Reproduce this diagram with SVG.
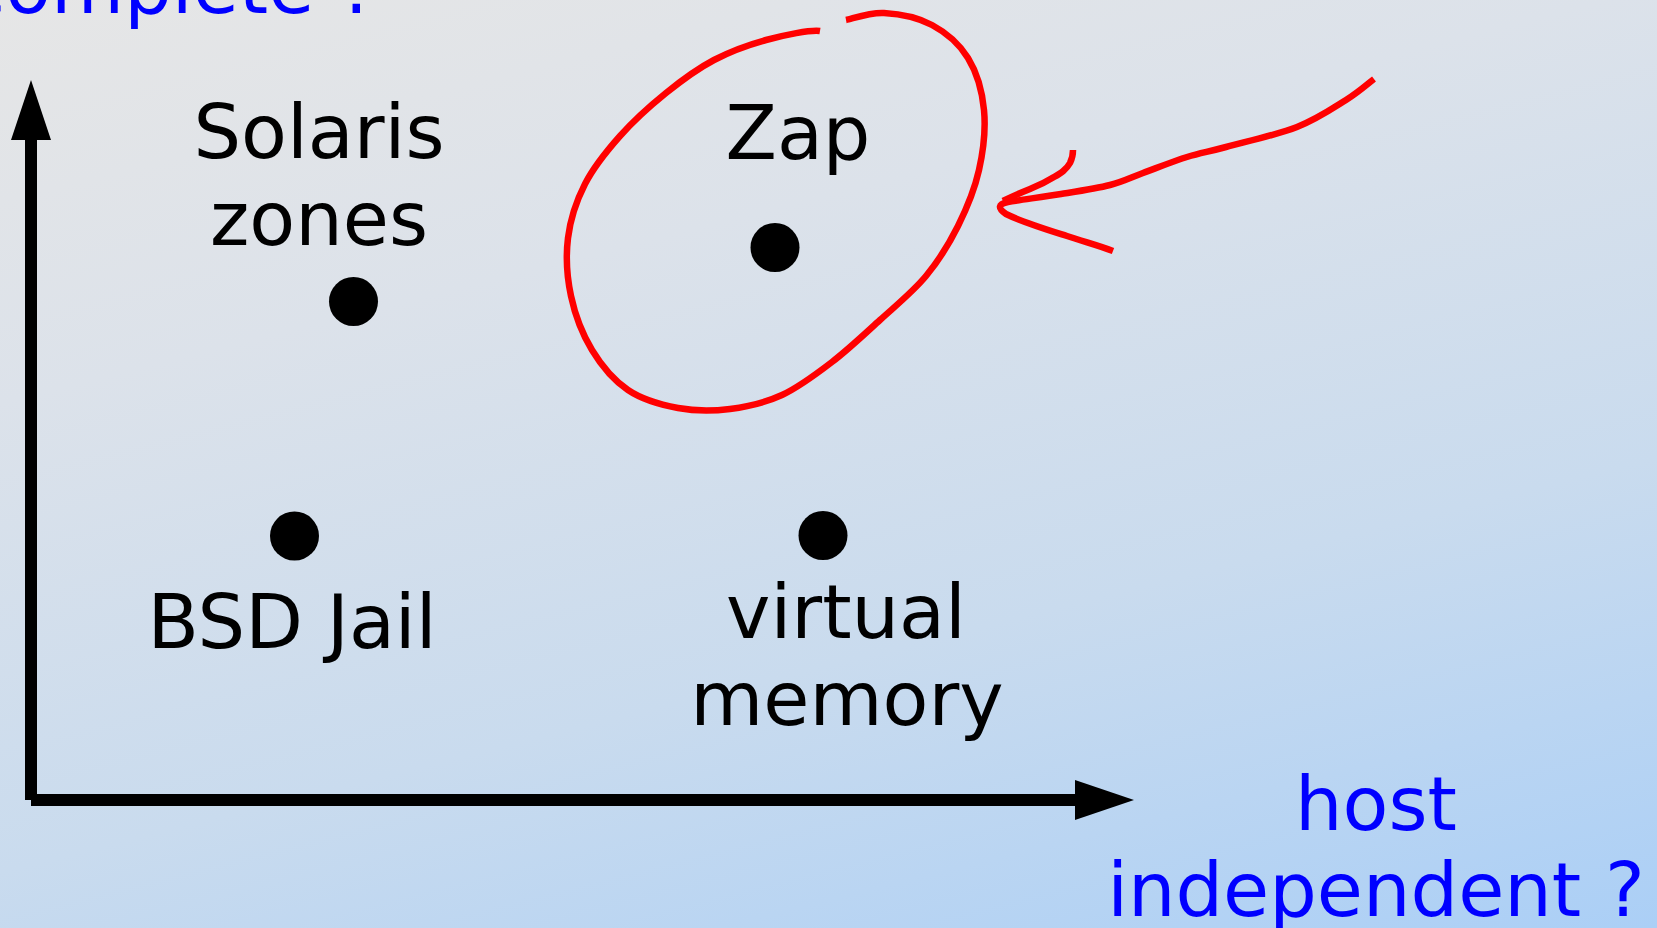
<svg xmlns="http://www.w3.org/2000/svg" width="1657" height="928" viewBox="0 0 1657 928">
  <defs>
    <linearGradient id="bg" gradientUnits="userSpaceOnUse" x1="0" y1="0" x2="316" y2="1263">
      <stop offset="0" stop-color="#e6e6e6"/>
      <stop offset="0.3" stop-color="#dce2ea"/>
      <stop offset="0.65" stop-color="#c9dbee"/>
      <stop offset="1" stop-color="#abcff6"/>
    </linearGradient>
    <style>
      .label { font-family: "DejaVu Sans", "Liberation Sans", sans-serif; font-size: 75px; fill: #000000; text-anchor: middle; }
      .axis-label { font-family: "DejaVu Sans", "Liberation Sans", sans-serif; font-size: 75px; fill: #0000ff; text-anchor: middle; }
      .dot { fill: #000000; }
      .axis { stroke: #000000; stroke-width: 12; fill: none; stroke-linecap: butt; }
      .head { fill: #000000; }
      .mark { stroke: #ff0000; stroke-width: 6.5; fill: none; stroke-linejoin: round; stroke-linecap: butt; }
    </style>
  </defs>

  <!-- background -->
  <rect x="0" y="0" width="1657" height="928" fill="url(#bg)"/>

  <!-- axis labels -->
  <g id="label-complete">
    <text class="axis-label" x="-36" y="13" style="text-anchor:start">complete ?</text>
  </g>
  <g id="label-host">
    <text class="axis-label" x="1376" y="830">host</text>
    <text class="axis-label" x="1376" y="916">independent ?</text>
  </g>

  <!-- axes -->
  <g id="connectors">
    <line class="axis" x1="31" y1="138" x2="31" y2="800"/>
    <polygon class="head" points="31,80 51,140 11,140"/>
    <line class="axis" x1="31" y1="800" x2="1077" y2="800"/>
    <polygon class="head" points="1134,800 1075,780 1075,820"/>
  </g>

  <!-- data points -->
  <g id="node-solaris">
    <text class="label" x="319" y="158">Solaris</text>
    <text class="label" x="319" y="245">zones</text>
    <circle class="dot" cx="353.5" cy="301.5" r="24.5"/>
  </g>
  <g id="node-zap">
    <text class="label" x="798" y="159">Zap</text>
    <circle class="dot" cx="775" cy="247.5" r="24.5"/>
  </g>
  <g id="node-bsd">
    <circle class="dot" cx="294.5" cy="536" r="24.5"/>
    <text class="label" x="292" y="648">BSD Jail</text>
  </g>
  <g id="node-vm">
    <circle class="dot" cx="823" cy="535.5" r="24.5"/>
    <text class="label" x="846" y="638">virtual</text>
    <text class="label" x="847" y="725">memory</text>
  </g>

  <!-- hand-drawn highlight: open loop round Zap and a pointing arrow -->
  <g id="highlight">
    <path class="mark" d="M846,20
      C852.3,18.8 869.7,12.2 884,13
      C898.3,13.8 918,17.5 932,25
      C946,32.5 959.3,43.8 968,58
      C976.7,72.2 982.2,91.3 984,110
      C985.8,128.7 983.3,150.7 979,170
      C974.7,189.3 966.8,208.3 958,226
      C949.2,243.7 939,260.3 926,276
      C913,291.7 895.7,305.7 880,320
      C864.3,334.3 848.3,349.5 832,362
      C815.7,374.5 799,387.2 782,395
      C765,402.8 747.3,406.8 730,409
      C712.7,411.2 695,411.2 678,408
      C661,404.8 642.3,399.7 628,390
      C613.7,380.3 601.5,365.7 592,350
      C582.5,334.3 575,314.7 571,296
      C567,277.3 565.7,256.7 568,238
      C570.3,219.3 576.3,201 585,184
      C593.7,167 606.5,151.2 620,136
      C633.5,120.8 650.3,105.7 666,93
      C681.7,80.3 697.3,68.8 714,60
      C730.7,51.2 748.3,44.8 766,40
      C783.7,35.2 811,29.5 820,31"/>
    <path class="mark" d="M1374,79
      C1369.3,82.5 1358.8,92 1346,100
      C1333.2,108 1317,119.2 1297,127
      C1277,134.8 1244.3,142 1226,147
      C1207.7,152 1200.8,152.7 1187,157
      C1173.2,161.3 1155.8,168.3 1143,173
      C1130.2,177.7 1123.7,181.5 1110,185
      C1096.3,188.5 1078.3,191.2 1061,194
      C1043.7,196.8 1020,200 1008,202
      Q993,205 1006,214
      C1022,222 1045,229 1067,236
      C1085,242 1100,246 1113,251"/>
    <path class="mark" d="M1073,150
      C1073,156 1072,159 1070,163
      C1066,170 1061,173 1054,177
      C1046,182 1040,185 1030,189
      C1020,193 1011,197 1003,201"/>
  </g>
</svg>
